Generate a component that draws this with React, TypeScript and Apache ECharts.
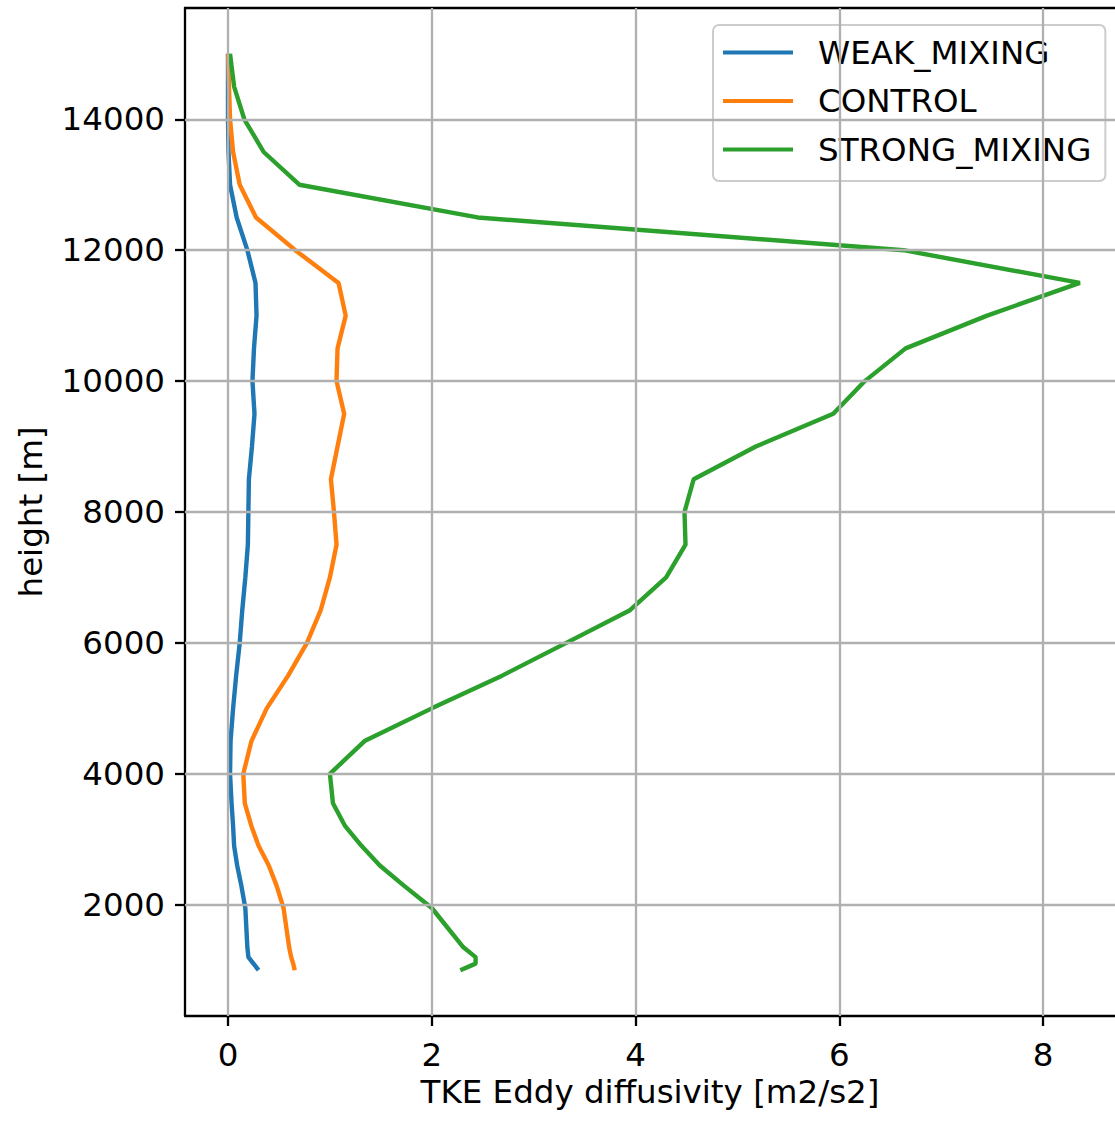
import React, { useEffect, useRef } from "react";
import * as echarts from "echarts";

const heights = [1000, 1100, 1200, 1350, 1950, 2300, 2600, 2900, 3200, 3550, 4000, 4500, 5000, 5500, 6000, 6500, 7000, 7500, 8000, 8500, 9000, 9500, 10000, 10500, 11000, 11500, 12000, 12500, 13000, 13500, 14000, 14500, 15000];
const weakMixing = [0.30, 0.25, 0.20, 0.19, 0.17, 0.13, 0.09, 0.06, 0.05, 0.035, 0.02, 0.025, 0.05, 0.08, 0.115, 0.14, 0.17, 0.195, 0.20, 0.205, 0.235, 0.26, 0.24, 0.255, 0.28, 0.27, 0.19, 0.085, 0.02, 0.005, 0.0, 0.0, 0.0];
const control = [0.655, 0.64, 0.62, 0.60, 0.545, 0.475, 0.40, 0.30, 0.23, 0.165, 0.15, 0.23, 0.38, 0.59, 0.775, 0.91, 1.0, 1.065, 1.04, 1.01, 1.075, 1.14, 1.065, 1.075, 1.155, 1.085, 0.66, 0.275, 0.115, 0.05, 0.02, 0.01, 0.0];
const strongMixing = [2.28, 2.43, 2.43, 2.31, 2.0, 1.72, 1.49, 1.31, 1.15, 1.03, 1.0, 1.34, 2.0, 2.69, 3.32, 3.945, 4.30, 4.49, 4.48, 4.57, 5.18, 5.94, 6.25, 6.65, 7.45, 8.36, 6.63, 2.45, 0.70, 0.35, 0.16, 0.06, 0.02];

const seriesNames = ["WEAK_MIXING", "CONTROL", "STRONG_MIXING"];
const seriesColors = ["#1f77b4", "#ff7f0e", "#2ca02c"];
const xTicks = [0, 2, 4, 6, 8];
const yTicks = [2000, 4000, 6000, 8000, 10000, 12000, 14000];

const FONT = "DejaVu Sans";
const FS = 32.5;

export default function App() {
  const ref = useRef<HTMLDivElement>(null);
  useEffect(() => {
    document.body.style.margin = "0";
    if (!ref.current) return;
    const chart = echarts.init(ref.current, undefined, { renderer: "svg" });
    const values = [weakMixing, control, strongMixing];
    const lineSeries = values.map((vals, i) => ({
      name: seriesNames[i],
      type: "line",
      data: vals.map((v, j) => [v, heights[j]]),
      showSymbol: false,
      symbol: "none",
      lineStyle: { color: seriesColors[i], width: 4.4 },
      itemStyle: { color: seriesColors[i] },
      z: 3,
    }));
    const gridSeries = {
      name: "grid",
      type: "line",
      data: [],
      silent: true,
      z: 1,
      markLine: {
        silent: true,
        symbol: ["none", "none"],
        label: { show: false },
        lineStyle: { color: "#b0b0b0", width: 2.3, type: "solid" },
        emphasis: { disabled: true },
        data: [
          ...xTicks.map((t) => ({ xAxis: t })),
          ...yTicks.map((t) => ({ yAxis: t })),
        ],
      },
    };
    const spine = { show: true, onZero: false, lineStyle: { color: "#000000", width: 2.3 } };
    chart.setOption({
      animation: false,
      backgroundColor: "#ffffff",
      textStyle: { fontFamily: FONT },
      grid: {
        left: 185,
        top: 8,
        right: 0,
        height: 1008,
        show: false,
      },
      legend: {
        data: seriesNames,
        orient: "vertical",
        left: 713,
        top: 25,
        icon: "rect",
        itemWidth: 70,
        itemHeight: 4,
        itemGap: 15.5,
        padding: [11, 14, 15, 10],
        backgroundColor: "rgba(255,255,255,0.8)",
        borderColor: "#cccccc",
        borderWidth: 2,
        borderRadius: 6,
        textStyle: {
          fontFamily: FONT,
          fontSize: FS,
          color: "#000000",
          padding: [0, 0, 0, 20],
          lineHeight: 33,
        },
      },
      xAxis: [
        {
          type: "value",
          min: -0.422,
          max: 8.705,
          name: "TKE Eddy diffusivity [m2/s2]",
          nameLocation: "middle",
          nameGap: 57,
          nameTextStyle: { fontFamily: FONT, fontSize: FS, color: "#000000" },
          axisLine: spine,
          axisTick: { show: true, length: 10, lineStyle: { color: "#000000", width: 2.3 }, customValues: xTicks },
          axisLabel: { show: true, margin: 22, fontFamily: FONT, fontSize: FS, color: "#000000", customValues: xTicks },
          splitLine: { show: false },
        },
        {
          type: "value",
          position: "top",
          min: -0.422,
          max: 8.705,
          axisLine: spine,
          axisTick: { show: false },
          axisLabel: { show: false },
          splitLine: { show: false },
        },
      ],
      yAxis: {
        type: "value",
        min: 300,
        max: 15700,
        name: "height [m]",
        nameLocation: "middle",
        nameGap: 138,
        nameRotate: 90,
        nameTextStyle: { fontFamily: FONT, fontSize: FS, color: "#000000" },
        axisLine: spine,
        axisTick: { show: true, length: 10, lineStyle: { color: "#000000", width: 2.3 }, customValues: yTicks },
        axisLabel: {
          show: true,
          margin: 20,
          fontFamily: FONT,
          fontSize: FS,
          color: "#000000",
          customValues: yTicks,
          formatter: (v: number) => String(v),
        },
        splitLine: { show: false },
      },
      series: [gridSeries, ...lineSeries],
    });
    return () => chart.dispose();
  }, []);
  return <div ref={ref} style={{ width: 1115, height: 1121 }} />;
}
